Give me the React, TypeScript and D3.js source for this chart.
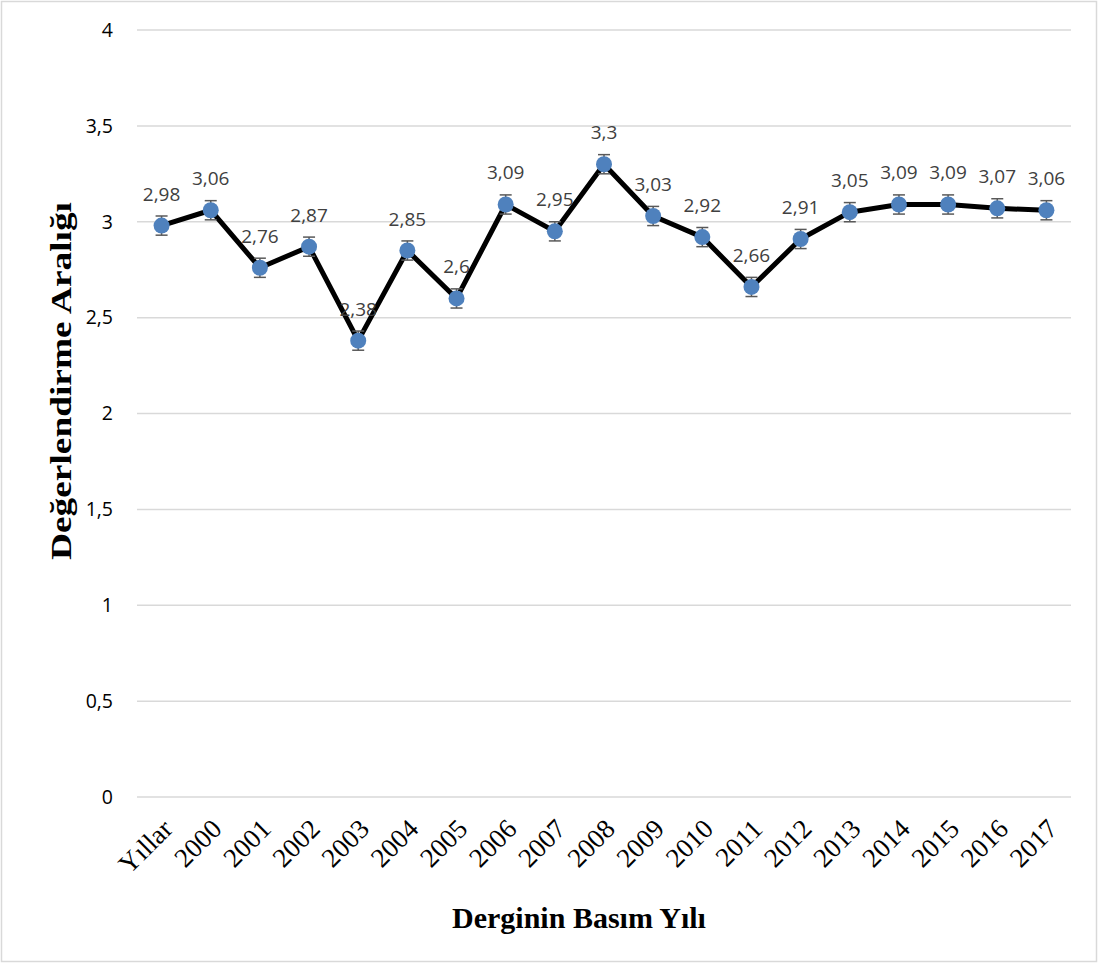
import React from "react";
import * as d3 from "d3";

const categories = ["Yıllar", "2000", "2001", "2002", "2003", "2004", "2005", "2006", "2007", "2008", "2009", "2010", "2011", "2012", "2013", "2014", "2015", "2016", "2017"];
const values = [2.98, 3.06, 2.76, 2.87, 2.38, 2.85, 2.6, 3.09, 2.95, 3.3, 3.03, 2.92, 2.66, 2.91, 3.05, 3.09, 3.09, 3.07, 3.06];
const errors = [0.05, 0.05, 0.05, 0.05, 0.05, 0.05, 0.05, 0.05, 0.05, 0.05, 0.05, 0.05, 0.05, 0.05, 0.05, 0.05, 0.05, 0.05, 0.05];
const yTicks = [0, 0.5, 1, 1.5, 2, 2.5, 3, 3.5, 4];

const W = 1099;
const H = 965;
const left = 137;
const right = 1071;
const top = 30;
const bottom = 797;

const fmt = (v: number) => String(v).replace(".", ",");

export default function App() {
  const x = d3.scaleBand<string>().domain(categories).range([left, right]);
  const y = d3.scaleLinear().domain([0, 4]).range([bottom, top]);
  const cx = (c: string) => (x(c) as number) + x.bandwidth() / 2;
  const line = d3
    .line<number>()
    .x((_, i) => cx(categories[i]))
    .y((d) => y(d));

  return (
    <svg width={W} height={H} style={{ position: "absolute", left: 0, top: 0 }}>
      <rect x={0} y={0} width={W} height={H} fill="#fff" />
      <rect x={1.5} y={1.5} width={1095} height={960} fill="none" stroke="#d9d9d9" strokeWidth={1.5} />
      {yTicks.map((t) => (
        <g key={t}>
          <line x1={left} x2={right} y1={y(t)} y2={y(t)} stroke="#d9d9d9" strokeWidth={1.5} />
          <text
            x={113}
            y={y(t)}
            dy="0.35em"
            textAnchor="end"
            fontFamily="'Open Sans', 'Liberation Sans', sans-serif"
            fontSize={19.5}
            fill="#000"
          >
            {fmt(t)}
          </text>
        </g>
      ))}
      {categories.map((c) => (
        <text
          key={c}
          transform={`translate(${cx(c) - 1},${817}) rotate(-45)`}
          textAnchor="end"
          dominantBaseline="hanging"
          fontFamily="'Liberation Serif', 'Times New Roman', serif"
          fontSize={27}
          fill="#000"
        >
          {c}
        </text>
      ))}
      <path d={line(values) || ""} fill="none" stroke="#000" strokeWidth={5} strokeLinejoin="round" />
      {values.map((v, i) => {
        const px = cx(categories[i]);
        const y1 = y(v + errors[i]);
        const y2 = y(v - errors[i]);
        return (
          <g key={i}>
            <line x1={px} x2={px} y1={y1} y2={y2} stroke="#595959" strokeWidth={1.5} />
            <line x1={px - 6} x2={px + 6} y1={y1} y2={y1} stroke="#595959" strokeWidth={1.5} />
            <line x1={px - 6} x2={px + 6} y1={y2} y2={y2} stroke="#595959" strokeWidth={1.5} />
            <circle cx={px} cy={y(v)} r={8} fill="#4f81bd" />
            <text
              x={px}
              y={y(v) - 25}
              textAnchor="middle"
              fontFamily="'Open Sans', 'Liberation Sans', sans-serif"
              fontSize={19}
              fill="#404040"
            >
              {fmt(v)}
            </text>
          </g>
        );
      })}
      <text
        transform={`translate(71,381) rotate(-90)`}
        textAnchor="middle"
        fontFamily="'Liberation Serif', 'Times New Roman', serif"
        fontWeight="bold"
        fontSize={30}
        textLength={358}
        lengthAdjust="spacingAndGlyphs"
        fill="#000"
      >
        Değerlendirme Aralığı
      </text>
      <text
        x={579}
        y={928}
        textAnchor="middle"
        fontFamily="'Liberation Serif', 'Times New Roman', serif"
        fontWeight="bold"
        fontSize={30}
        fill="#000"
      >
        Derginin Basım Yılı
      </text>
    </svg>
  );
}
